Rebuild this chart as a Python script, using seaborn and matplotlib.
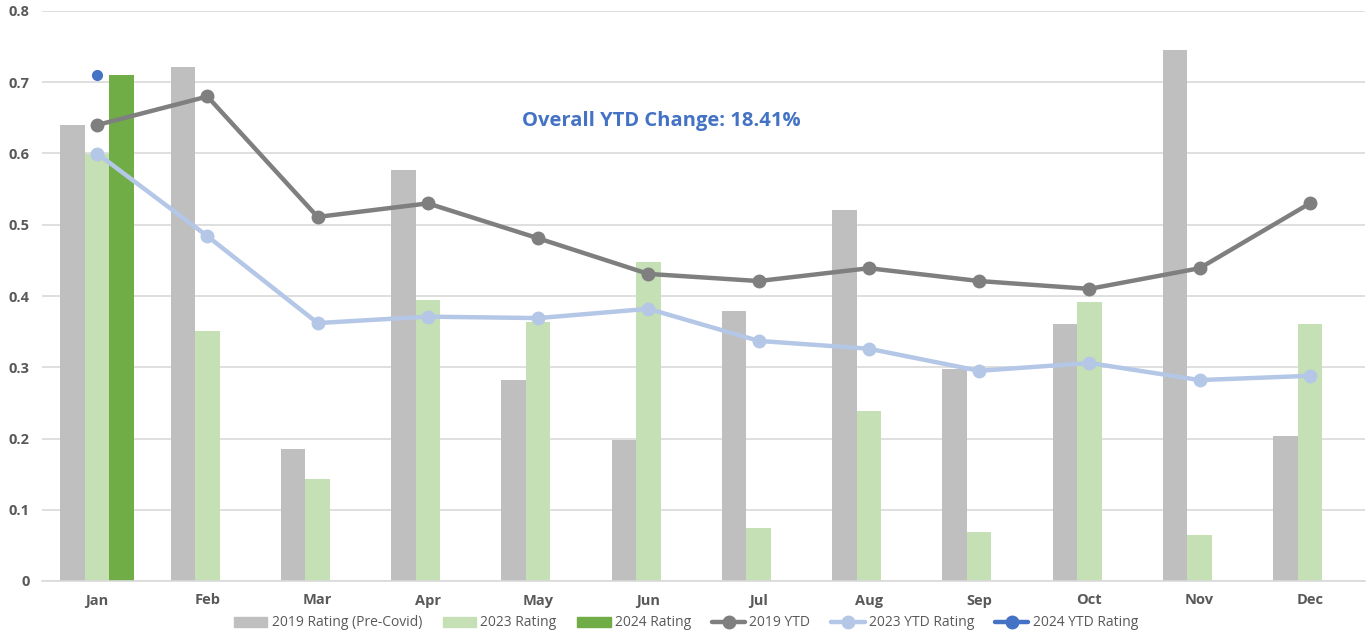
import matplotlib
matplotlib.use("Agg")
import matplotlib.pyplot as plt
import numpy as np
import pandas as pd
import seaborn as sns
from matplotlib.patches import Patch
from matplotlib.lines import Line2D

months = ["Jan", "Feb", "Mar", "Apr", "May", "Jun", "Jul", "Aug", "Sep", "Oct", "Nov", "Dec"]
rating_2019 = [0.640, 0.721, 0.185, 0.577, 0.282, 0.198, 0.379, 0.521, 0.298, 0.361, 0.745, 0.204]
rating_2023 = [0.600, 0.351, 0.143, 0.394, 0.364, 0.448, 0.074, 0.239, 0.069, 0.392, 0.065, 0.361]
rating_2024 = [0.710] + [np.nan] * 11
ytd_2019 = [0.640, 0.680, 0.511, 0.530, 0.481, 0.431, 0.421, 0.439, 0.421, 0.410, 0.439, 0.530]
ytd_2023 = [0.600, 0.484, 0.362, 0.371, 0.369, 0.382, 0.337, 0.326, 0.295, 0.306, 0.282, 0.288]
ytd_2024 = [0.710] + [np.nan] * 11
ytd_change = "Overall YTD Change: 18.41%"

sns.set_theme(style="white")
plt.rcParams['font.family'] = ['Open Sans', 'DejaVu Sans']

bars = pd.DataFrame({
    "month": months * 3,
    "series": ["2019 Rating (Pre-Covid)"] * 12 + ["2023 Rating"] * 12 + ["2024 Rating"] * 12,
    "value": rating_2019 + rating_2023 + rating_2024,
})
bar_colors = ["#BFBFBF", "#C5E0B4", "#70AD47"]

fig = plt.figure(figsize=(13.72, 6.33), dpi=100)
ax = fig.add_axes([42 / 1372, 1 - 581 / 633, 1323 / 1372, 570 / 633])

sns.barplot(data=bars, x="month", y="value", hue="series", palette=bar_colors,
            width=0.665, gap=0, ax=ax, legend=False, saturation=1, linewidth=0)

x = np.arange(len(months))
ax.plot(x, ytd_2019, color="#7F7F7F", lw=3.2, marker="o", ms=9, label="2019 YTD", zorder=4)
ax.plot(x, ytd_2023, color="#B4C7E7", lw=3.2, marker="o", ms=9, label="2023 YTD Rating", zorder=4)
ax.plot(x, ytd_2024, color="#4472C4", lw=3.2, marker="o", ms=7, label="2024 YTD Rating", zorder=5)

ax.set_xlim(-0.5, 11.5)
ax.set_ylim(0, 0.8)
ax.set_yticks(np.arange(0, 0.81, 0.1))
ax.set_yticklabels(["0", "0.1", "0.2", "0.3", "0.4", "0.5", "0.6", "0.7", "0.8"])
ax.yaxis.grid(True, color="#D9D9D9", lw=1.2)
ax.set_axisbelow(True)
for s in ["top", "right", "left"]:
    ax.spines[s].set_visible(False)
ax.spines["bottom"].set_color("#D9D9D9")
ax.spines["bottom"].set_linewidth(1.2)
ax.tick_params(axis="both", length=0, labelsize=10.5, labelcolor="#595959", pad=9)
for t in ax.get_xticklabels() + ax.get_yticklabels():
    t.set_fontweight("bold")
ax.set_xlabel("")
ax.set_ylabel("")

ax.text(5.12, 0.645, ytd_change, color="#4472C4", fontsize=14.5, fontweight="bold",
        ha="center", va="center")

handles = [Patch(color=c) for c in bar_colors] + [
    Line2D([], [], color="#7F7F7F", lw=3.2, marker="o", ms=9),
    Line2D([], [], color="#B4C7E7", lw=3.2, marker="o", ms=9),
    Line2D([], [], color="#4472C4", lw=3.2, marker="o", ms=9),
]
labels = ["2019 Rating (Pre-Covid)", "2023 Rating", "2024 Rating", "2019 YTD",
          "2023 YTD Rating", "2024 YTD Rating"]
leg = fig.legend(handles, labels, loc="center", bbox_to_anchor=(686 / 1372, 1 - 623 / 633),
                 ncol=6, frameon=False, fontsize=10, handlelength=2.4, columnspacing=1.5,
                 handletextpad=0.3)
for t in leg.get_texts():
    t.set_color("#595959")

fig.savefig("out.png", dpi=100)
